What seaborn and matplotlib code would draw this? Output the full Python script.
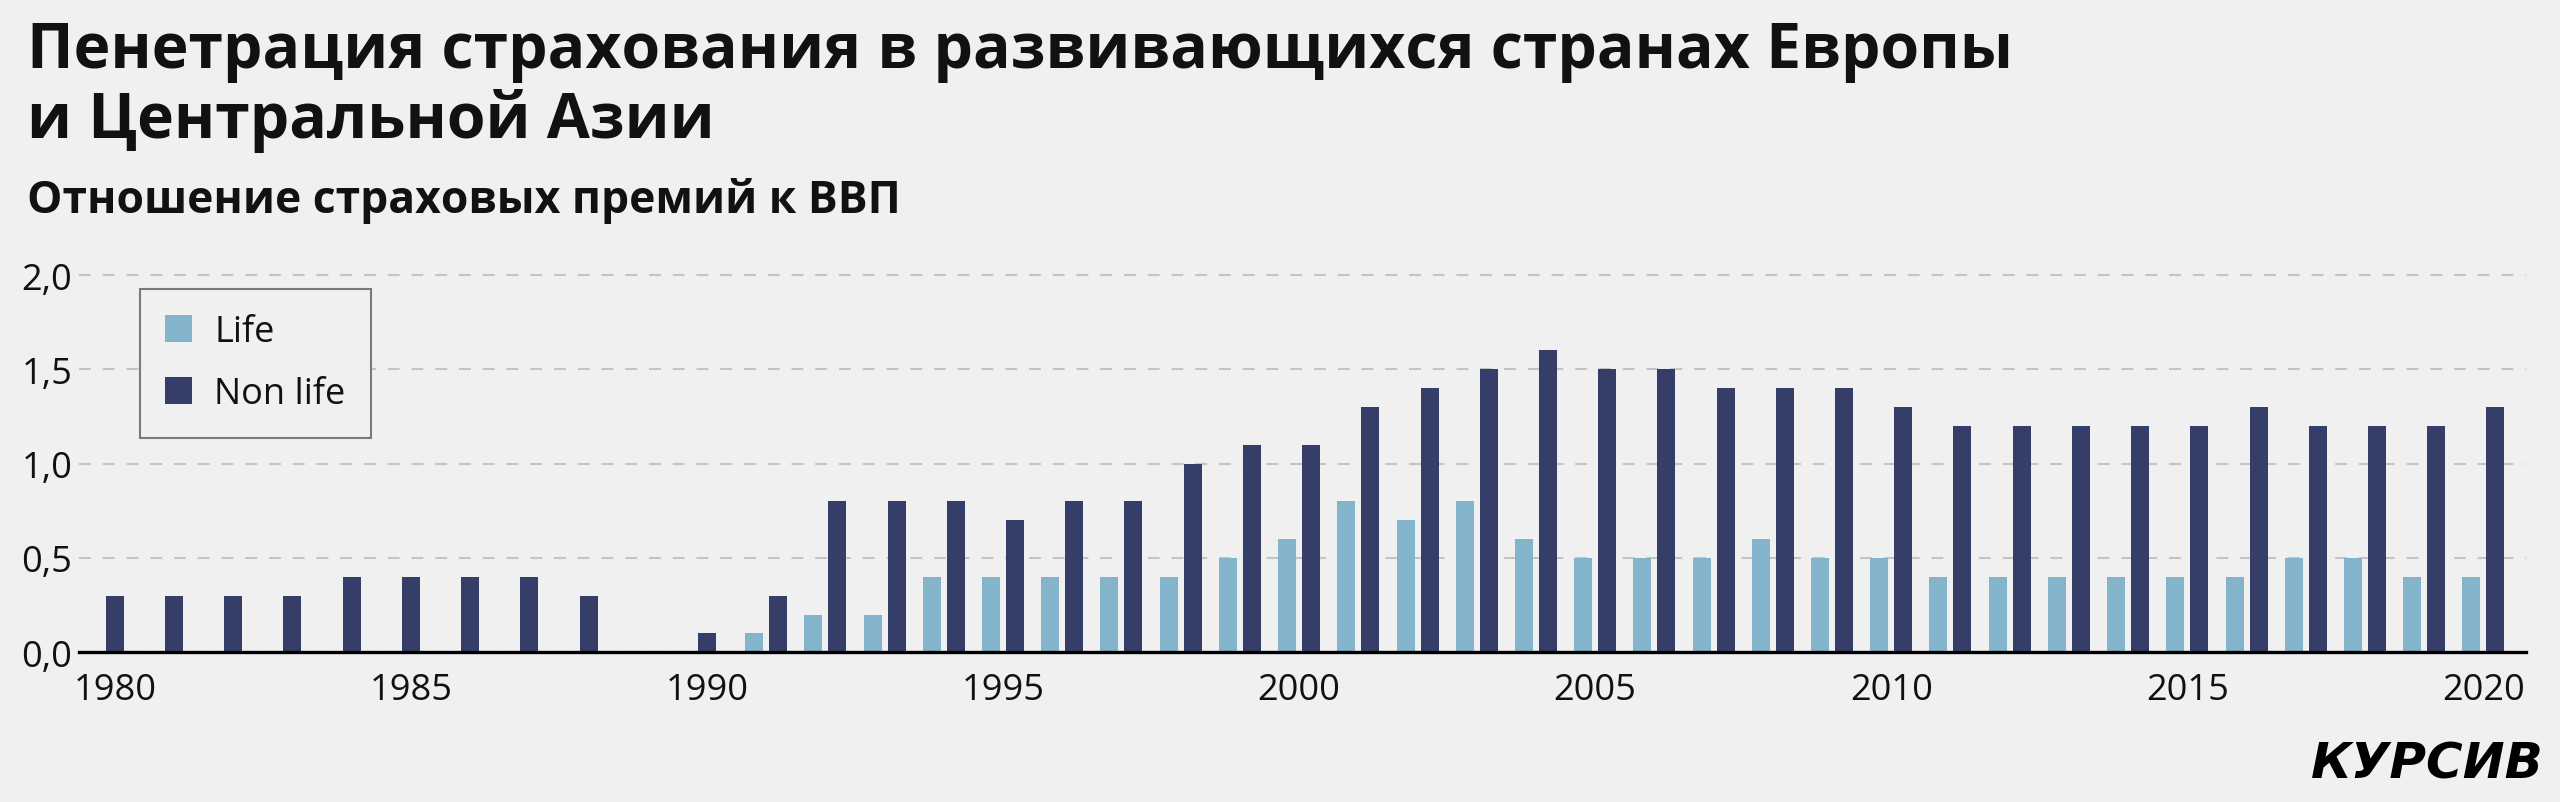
import numpy as np
import pandas as pd
import matplotlib
matplotlib.use("Agg")
import matplotlib.pyplot as plt
from matplotlib.ticker import FuncFormatter, FixedLocator
import seaborn as sns

# ---------------- data ----------------
years = list(range(1980, 2021))
life = [np.nan] * 11 + [0.1, 0.2, 0.2, 0.4, 0.4, 0.4, 0.4, 0.4, 0.5, 0.6,
                        0.8, 0.7, 0.8, 0.6, 0.5, 0.5, 0.5, 0.6, 0.5, 0.5,
                        0.4, 0.4, 0.4, 0.4, 0.4, 0.4, 0.5, 0.5, 0.4, 0.4]
non_life = [0.3, 0.3, 0.3, 0.3, 0.4, 0.4, 0.4, 0.4, 0.3, np.nan, 0.1,
            0.3, 0.8, 0.8, 0.8, 0.7, 0.8, 0.8, 1.0, 1.1, 1.1,
            1.3, 1.4, 1.5, 1.6, 1.5, 1.5, 1.4, 1.4, 1.4, 1.3,
            1.2, 1.2, 1.2, 1.2, 1.2, 1.3, 1.2, 1.2, 1.2, 1.3]
series_names = ["Life", "Non life"]
x_ticks = list(range(1980, 2021, 5))
y_ticks = [0.0, 0.5, 1.0, 1.5, 2.0]

title = "Пенетрация страхования в развивающихся странах Европы\nи Центральной Азии"
subtitle = "Отношение страховых премий к ВВП"
logo = "КУРСИВ"

# ---------------- style ----------------
BG = "#f0f0f0"
C_LIFE = "#83b4cc"
C_NON = "#353d69"
palette = {"Life": C_LIFE, "Non life": C_NON}

sns.set_style("white", {"axes.facecolor": BG, "figure.facecolor": BG})
plt.rcParams["font.family"] = ["Open Sans", "DejaVu Sans"]

df = pd.DataFrame({"year": years, "Life": life, "Non life": non_life})
long = df.melt(id_vars="year", value_vars=series_names,
               var_name="type", value_name="value").dropna()
both_years = df.loc[df["Life"].notna(), "year"]
df_both = long[long["year"].isin(both_years)]
df_single = long[~long["year"].isin(both_years)]

fig = plt.figure(figsize=(25.6, 8.03), dpi=100, facecolor=BG)
ax = fig.add_axes([0.03098, 0.18643, 0.95574, 0.48157])
ax.set_facecolor(BG)

sns.barplot(data=df_both, x="year", y="value", hue="type",
            hue_order=series_names, palette=palette, native_scale=True,
            dodge=True, width=0.81, gap=0.25, errorbar=None,
            linewidth=0, saturation=1, ax=ax)
sns.barplot(data=df_single, x="year", y="value", color=C_NON,
            native_scale=True, width=0.304, errorbar=None,
            linewidth=0, saturation=1, ax=ax)

ax.set_xlim(1979.40, 2020.72)
ax.set_ylim(0, 2.05)
ax.set_xlabel("")
ax.set_ylabel("")

ax.xaxis.set_major_locator(FixedLocator(x_ticks))
ax.yaxis.set_major_locator(FixedLocator(y_ticks))
ax.yaxis.set_major_formatter(FuncFormatter(lambda v, p: f"{v:.1f}".replace(".", ",")))
ax.xaxis.set_major_formatter(FuncFormatter(lambda v, p: f"{int(round(v))}"))

ax.tick_params(axis="x", direction="out", length=12, width=1.8, color="black",
               labelsize=26, pad=2, labelcolor="#111111")
ax.tick_params(axis="y", length=0, labelsize=26, pad=5, labelcolor="#111111")

for s in ["left", "right", "top"]:
    ax.spines[s].set_visible(False)
ax.spines["bottom"].set_color("black")
ax.spines["bottom"].set_linewidth(2.4)
ax.spines["bottom"].set_zorder(5)

ax.set_axisbelow(True)
ax.yaxis.grid(True, color="#c4c4c4", linewidth=1.5, linestyle=(0, (5.7, 5.7)))
ax.xaxis.grid(False)

handles, labels = ax.get_legend_handles_labels()
leg = ax.legend(handles[:2], labels[:2], loc="upper left",
                bbox_to_anchor=(0.0248, 0.9395), borderaxespad=0,
                frameon=True, fancybox=False, edgecolor="#7a7a7a",
                facecolor=BG, framealpha=1, fontsize=26,
                handlelength=0.75, handleheight=0.75, handletextpad=0.6,
                labelspacing=0.72, borderpad=0.7)
leg.get_frame().set_linewidth(1.5)
for t in leg.get_texts():
    t.set_color("#111111")

fig.text(0.0105, 1 - 68 / 803, title.split("\n")[0], fontsize=45,
         fontweight="bold", va="baseline", ha="left", color="#111111")
fig.text(0.0105, 1 - 138 / 803, title.split("\n")[1], fontsize=45,
         fontweight="bold", va="baseline", ha="left", color="#111111")
fig.text(0.0105, 1 - 213 / 803, subtitle, fontsize=32,
         fontweight="bold", va="baseline", ha="left", color="#111111")
fig.text(0.9937, 1 - 779 / 803, logo, fontsize=36, fontweight="heavy",
         fontstyle="italic", family=["DejaVu Sans"], va="baseline",
         ha="right", color="black")

fig.savefig("out.png", dpi=100, facecolor=BG)
